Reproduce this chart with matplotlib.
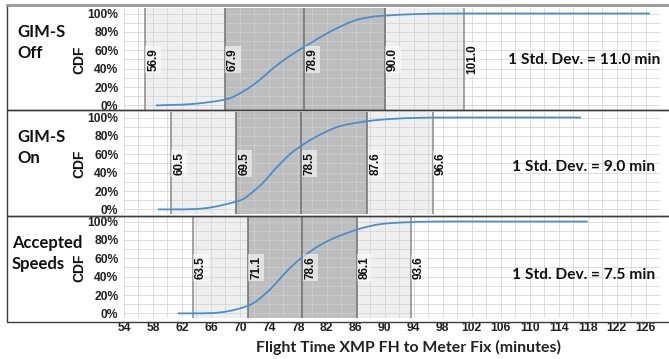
import matplotlib
matplotlib.use("Agg")
import matplotlib.pyplot as plt
from matplotlib.patches import Rectangle, PathPatch
from matplotlib.path import Path
from matplotlib.lines import Line2D
from matplotlib.ticker import MultipleLocator, PercentFormatter

# panel names and std-dev notes
panel_names = [["GIM-S", "Off"], ["GIM-S", "On"], ["Accepted", "Speeds"]]
std_notes = ["1 Std. Dev. = 11.0 min", "1 Std. Dev. = 9.0 min", "1 Std. Dev. = 7.5 min"]

# -2sd, -1sd, mean, +1sd, +2sd
marks_off = [56.9, 67.9, 78.9, 90.0, 101.0]
marks_on = [60.5, 69.5, 78.5, 87.6, 96.6]
marks_acc = [63.5, 71.1, 78.6, 86.1, 93.6]

# CDF curves
t_off = [58.4, 63.5, 68.1, 70.4, 72.3, 75.0, 77.3, 79.2, 82.4, 85.6, 87.9, 90.2, 94.8, 100.0, 110.0, 126.6]
c_off = [0.0, 0.016, 0.067, 0.15, 0.25, 0.43, 0.56, 0.65, 0.80, 0.917, 0.96, 0.978, 0.995, 1.0, 1.0, 1.0]

t_on = [58.7, 64.9, 69.7, 71.3, 73.2, 75.0, 76.9, 79.2, 81.5, 84.0, 87.6, 91.0, 95.0, 100.0, 117.1]
c_on = [0.0, 0.01, 0.09, 0.16, 0.29, 0.45, 0.60, 0.73, 0.83, 0.91, 0.96, 0.985, 0.997, 1.0, 1.0]

t_acc = [61.4, 67.2, 71.3, 73.6, 75.0, 76.6, 78.6, 81.0, 83.3, 86.5, 89.3, 92.5, 97.1, 105.0, 118.0]
c_acc = [0.0, 0.01, 0.09, 0.22, 0.33, 0.47, 0.61, 0.74, 0.83, 0.92, 0.97, 0.99, 1.0, 1.0, 1.0]

x_ticks = list(range(54, 127, 4))

marks = [marks_off, marks_on, marks_acc]
curves = [(t_off, c_off), (t_on, c_on), (t_acc, c_acc)]

W, H = 669, 359
fig = plt.figure(figsize=(W / 100, H / 100), dpi=100)

def fx(px):
    return px / W

def fy(py):
    return 1 - py / H

def smooth_path(xs, ys):
    # excel style smoothed line: bezier segments through the points
    pts = list(zip(xs, ys))
    verts = [pts[0]]
    codes = [Path.MOVETO]
    n = len(pts)
    for k in range(n - 1):
        p0 = pts[k - 1] if k > 0 else pts[k]
        p1 = pts[k]
        p2 = pts[k + 1]
        p3 = pts[k + 2] if k + 2 < n else pts[k + 1]
        c1 = (p1[0] + (p2[0] - p0[0]) / 6, p1[1] + (p2[1] - p0[1]) / 6)
        c2 = (p2[0] - (p3[0] - p1[0]) / 6, p2[1] - (p3[1] - p1[1]) / 6)
        verts += [c1, c2, p2]
        codes += [Path.CURVE4] * 3
    return Path(verts, codes)

text_font = ["Lato", "DejaVu Sans"]
num_font = ["Liberation Sans", "DejaVu Sans"]

ax_left, ax_right = 124, 660
ax_tops = [8, 112, 216]
ax_h = 102
box_rows = [(5, 110), (110, 216), (216, 322)]

blue = "#4a8fcb"
light = "#efefef"
dark = "#bdbdbd"

for i in range(3):
    top = ax_tops[i]
    ax = fig.add_axes([fx(ax_left), fy(top + ax_h), fx(ax_right - ax_left), ax_h / H])
    ax.set_xlim(54, 128)
    ax.set_ylim(-0.05, 1.06)
    ax.set_facecolor("none")
    for s in ax.spines.values():
        s.set_visible(False)

    ax.set_xticks(x_ticks)
    ax.yaxis.set_major_locator(MultipleLocator(0.2))
    ax.yaxis.set_major_formatter(PercentFormatter(1.0, decimals=0))
    ax.tick_params(which="both", length=0)
    ax.tick_params(axis="y", pad=4)
    for lab in ax.get_yticklabels():
        lab.set_fontfamily(num_font)
        lab.set_fontweight("bold")
        lab.set_fontsize(8.7)
        lab.set_color("#222222")
    if i < 2:
        ax.set_xticklabels([])
    else:
        ax.tick_params(axis="x", pad=3)
        for lab in ax.get_xticklabels():
            lab.set_fontfamily(num_font)
            lab.set_fontweight("bold")
            lab.set_fontsize(8.7)
            lab.set_color("#222222")

    m = marks[i]
    ax.axvspan(m[0], m[4], color=light, zorder=0.5, lw=0)
    ax.axvspan(m[1], m[3], color=dark, zorder=0.6, lw=0)
    # grid drawn on top of the shading
    for gx in range(54, 129, 2):
        ax.axvline(gx, color="#cfcfcf", lw=0.7, zorder=0.7, alpha=0.7)
    for gy in [k / 10 for k in range(11)]:
        ax.axhline(gy, color="#cfcfcf", lw=0.7, zorder=0.7, alpha=0.7)
    for j, v in enumerate(m):
        col = "#707070" if j in (1, 2, 3) else "#8a8a8a"
        ax.axvline(v, color=col, lw=1.1, zorder=1)
        ax.text(v + 0.3, 0.5, f"{v:.1f}", rotation=90, ha="left", va="center",
                fontsize=8.5, fontweight="bold", family=num_font, color="#111111",
                zorder=3,
                bbox=dict(boxstyle="square,pad=0.15", fc="white", ec="none", alpha=0.55))

    t, c = curves[i]
    ax.add_patch(PathPatch(smooth_path(t, c), fill=False, ec=blue, lw=1.3, zorder=2))

    # panel frame
    y0, y1 = box_rows[i]
    fig.add_artist(Rectangle((fx(7), fy(y1)), fx(680 - 7), (y1 - y0) / H,
                             fill=False, ec="#3c3c3c", lw=1.0))

    # panel name
    nm = panel_names[i]
    fig.text(fx(17 if i < 2 else 12), fy(y0 + 27), nm[0], ha="left", va="center",
             fontsize=12, fontweight="bold", family=text_font, color="#111111")
    fig.text(fx(17 if i < 2 else 12), fy(y0 + 48), nm[1], ha="left", va="center",
             fontsize=12, fontweight="bold", family=text_font, color="#111111")
    fig.text(fx(79), fy(top + 52), "CDF", rotation=90, ha="center", va="center",
             fontsize=10, fontweight="bold", family=num_font, color="#111111")
    fig.text(fx(584), fy(top + 52 + (0 if i == 0 else 3 if i == 1 else 7)), std_notes[i],
             ha="center", va="center", fontsize=11.2, fontweight="bold",
             family=text_font, color="#111111")

# gray top edge
fig.add_artist(Line2D([fx(7), 1], [fy(5), fy(5)], color="#9a9a9a", lw=2))

fig.text(fx(408), fy(347), "Flight Time XMP FH to Meter Fix (minutes)", ha="center", va="center",
         fontsize=11.4, fontweight="bold", family=text_font, color="#222222")

fig.savefig("out.png", dpi=100)
